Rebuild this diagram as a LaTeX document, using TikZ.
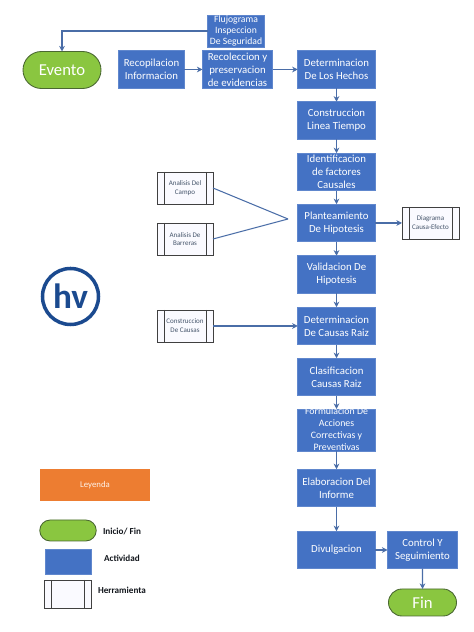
\documentclass[tikz,border=0pt]{standalone}
\usepackage{fontspec}
\setmainfont{Carlito}
\usetikzlibrary{arrows.meta,shapes.misc}
\definecolor{azul}{HTML}{4472C4}
\definecolor{linea}{HTML}{4A6DA7}
\definecolor{verde}{HTML}{8AC640}
\definecolor{naranja}{HTML}{ED7D31}
\definecolor{marino}{HTML}{1B4A8F}
\definecolor{gris}{HTML}{44546A}
\begin{document}
\begin{tikzpicture}[
    actividad/.style={fill=azul, draw=azul!85!white, line width=0.3pt, text=white, inner sep=0pt, outer sep=0pt, minimum height=0.75cm, align=center, font=\fontsize{6.15}{7.3}\selectfont},
    terminal/.style={rounded rectangle, fill=verde, draw=verde!55!black!80!gris, line width=0.5pt, text=white, inner sep=0pt, outer sep=0pt, font=\fontsize{9.5}{11}\selectfont},
    herramienta/.style={draw=black!75, line width=0.5pt, fill=blue!2, inner sep=0pt, outer sep=0pt, minimum height=0.64cm, align=center, text=gris, font=\fontsize{4}{5}\selectfont,
        path picture={
            \draw[black!75, line width=0.5pt] ([xshift=0.14cm]path picture bounding box.north west) -- ([xshift=0.14cm]path picture bounding box.south west);
            \draw[black!75, line width=0.5pt] ([xshift=-0.14cm]path picture bounding box.north east) -- ([xshift=-0.14cm]path picture bounding box.south east);
        }},
    leyenda/.style={text=black!75!gris, font=\fontsize{5.2}{6}\selectfont\bfseries},
    arr/.style={-{Stealth[length=3.2pt,width=3.2pt]}, linea, line width=0.7pt},
    lin/.style={linea, line width=0.6pt}
]
\useasboundingbox (0,0) rectangle (9.48,12.64);

\node[actividad, minimum width=1.13cm, minimum height=0.64cm, font=\fontsize{5.5}{6.2}\selectfont] (flujo) at (4.72,12.02) {Flujograma\\Inspeccion\\De Seguridad};
\node[terminal, minimum width=1.56cm, minimum height=0.74cm] (evento) at (1.24,11.24) {Evento};
\node[actividad, minimum width=1.31cm] (recop) at (3.03,11.25) {Recopilacion\\Informacion};
\node[actividad, minimum width=1.40cm] (recol) at (4.75,11.25) {Recoleccion y\\preservacion\\de evidencias};
\node[actividad, minimum width=1.55cm] (hechos) at (6.73,11.25) {Determinacion\\De Los Hechos};
\node[actividad, minimum width=1.55cm] (linea) at (6.73,10.23) {Construccion\\Linea Tiempo};
\node[actividad, minimum width=1.55cm] (factores) at (6.73,9.20) {Identificacion\\de factores\\Causales};
\node[actividad, minimum width=1.55cm] (hipo) at (6.73,8.18) {Planteamiento\\De Hipotesis};
\node[actividad, minimum width=1.55cm] (valid) at (6.73,7.15) {Validacion De\\Hipotesis};
\node[actividad, minimum width=1.55cm] (raiz) at (6.73,6.12) {Determinacion\\De Causas Raiz};
\node[actividad, minimum width=1.55cm] (clasif) at (6.73,5.10) {Clasificacion\\Causas Raiz};
\node[actividad, minimum width=1.55cm, minimum height=0.84cm, font=\fontsize{5.6}{6.7}\selectfont] (formul) at (6.73,4.04) {\smash{\raisebox{-1.6pt}{\begin{tabular}{@{}c@{}}Formulacion De\\Acciones\\Correctivas y\\Preventivas\end{tabular}}}};
\node[actividad, minimum width=1.55cm] (informe) at (6.73,2.88) {Elaboracion Del\\Informe};
\node[actividad, minimum width=1.55cm] (divul) at (6.73,1.64) {Divulgacion};
\node[actividad, minimum width=1.40cm] (control) at (8.45,1.64) {Control Y\\Seguimiento};
\node[terminal, minimum width=1.36cm, minimum height=0.54cm] (fin) at (8.45,0.59) {Fin};

\node[herramienta, minimum width=1.12cm] (campo) at (3.70,8.88) {Analisis Del\\Campo};
\node[herramienta, minimum width=1.12cm] (barreras) at (3.70,7.86) {Analisis De\\Barreras};
\node[herramienta, minimum width=1.12cm] (causas) at (3.70,6.12) {Construccion\\De Causas};
\node[herramienta, minimum width=1.14cm] (efecto) at (8.61,8.18) {Diagrama\\Causa-Efecto};
\coordinate (union) at (5.76,8.26);

\node[circle, draw=marino, line width=2pt, minimum size=1.12cm, inner sep=0pt, text=marino, font=\fontsize{20}{22}\selectfont\bfseries] (logo) at (1.41,6.71) {hv};

\node[fill=naranja, text=white!90!naranja, minimum width=2.2cm, minimum height=0.64cm, inner sep=0pt, font=\fontsize{5}{6}\selectfont] (ley) at (1.90,2.94) {Leyenda};
\node[terminal, minimum width=1.13cm, minimum height=0.42cm] (leyini) at (1.36,2.03) {};
\node[actividad, minimum width=0.92cm, minimum height=0.50cm] (leyact) at (1.36,1.41) {};
\node[herramienta, minimum width=0.93cm, minimum height=0.56cm] (leyher) at (1.36,0.76) {};
\node[leyenda] (txtini) at (2.44,2.00) {Inicio/ Fin};
\node[leyenda] (txtact) at (2.44,1.47) {Actividad};
\node[leyenda] (txther) at (2.44,0.84) {Herramienta};

\draw[arr] (flujo.west) -| (evento.north);
\draw[arr] (recop) -- (recol);
\draw[arr] (recol) -- (hechos);
\draw[arr] (hechos) -- (linea);
\draw[arr] (linea) -- (factores);
\draw[arr] (factores) -- (hipo);
\draw[arr] (hipo) -- (valid);
\draw[arr] (valid) -- (raiz);
\draw[arr] (raiz) -- (clasif);
\draw[arr] (clasif) -- (formul);
\draw[arr] (formul) -- (informe);
\draw[arr] (informe) -- (divul);
\draw[arr] (divul) -- (control);
\draw[arr] (control) -- (fin);
\draw[arr] (hipo) -- (efecto);
\draw[arr] (causas) -- (raiz);
\draw[lin] (campo.east) -- (union);
\draw[lin] (barreras.east) -- (union);
\end{tikzpicture}
\end{document}
